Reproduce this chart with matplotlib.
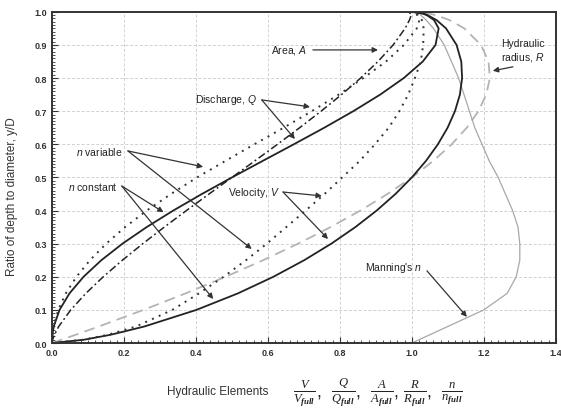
import matplotlib
matplotlib.use("Agg")
import matplotlib.pyplot as plt
from matplotlib.ticker import MultipleLocator

plt.rcParams['font.family'] = ['Liberation Sans', 'DejaVu Sans']
plt.rcParams['mathtext.fontset'] = 'custom'
plt.rcParams['mathtext.rm'] = 'Liberation Serif'
plt.rcParams['mathtext.it'] = 'Liberation Serif:italic'
plt.rcParams['mathtext.bf'] = 'Liberation Serif:bold:italic'
plt.rcParams['mathtext.sf'] = 'Liberation Sans:italic'

# ratio of depth to diameter, y/D
depth = [0, 0.01, 0.025, 0.05, 0.1, 0.15, 0.2, 0.25, 0.3, 0.35, 0.4, 0.45, 0.5,
         0.55, 0.6, 0.65, 0.7, 0.75, 0.8, 0.85, 0.9, 0.95, 0.975, 0.99, 0.995, 1.0]

area = [0, 0.0017, 0.0067, 0.0187, 0.0520, 0.0941, 0.1424, 0.1955, 0.2523, 0.3119, 0.3735,
        0.4364, 0.5, 0.5636, 0.6265, 0.6881, 0.7477, 0.8045, 0.8576, 0.9059, 0.9480,
        0.9813, 0.9933, 0.9983, 0.9994, 1.0]
radius = [0, 0.0266, 0.0659, 0.1302, 0.2541, 0.3715, 0.4824, 0.5865, 0.6838, 0.7740, 0.8569,
          0.9323, 1.0, 1.0596, 1.1106, 1.1526, 1.1849, 1.2068, 1.2168, 1.2131, 1.1922,
          1.1458, 1.1050, 1.0663, 1.0466, 1.0]
velocity = [0, 0.0890, 0.1631, 0.2569, 0.4012, 0.5168, 0.6151, 0.7007, 0.7761, 0.8430, 0.9022,
            0.9544, 1.0, 1.0393, 1.0724, 1.0993, 1.1198, 1.1335, 1.1397, 1.1374, 1.1243,
            1.0950, 1.0689, 1.0437, 1.0308, 1.0]
discharge = [0, 0.0002, 0.0011, 0.0048, 0.0209, 0.0486, 0.0876, 0.1370, 0.1958, 0.2630, 0.3370,
             0.4165, 0.5, 0.5857, 0.6718, 0.7564, 0.8372, 0.9119, 0.9775, 1.0304, 1.0658,
             1.0745, 1.0618, 1.0419, 1.0302, 1.0]
manning = [1.0, 1.02, 1.05, 1.10, 1.20, 1.265, 1.29, 1.30, 1.30, 1.295, 1.28, 1.26, 1.24,
           1.215, 1.195, 1.175, 1.16, 1.145, 1.13, 1.11, 1.09, 1.06, 1.04, 1.025, 1.022, 1.02]
velocity_var = [0, 0.0873, 0.1553, 0.2335, 0.3343, 0.4085, 0.4768, 0.5390, 0.5970, 0.6510,
                0.7048, 0.7574, 0.8065, 0.8554, 0.8974, 0.9356, 0.9653, 0.9899, 1.0086,
                1.0247, 1.0315, 1.0330, 1.0278, 1.0183, 1.0086, 0.9804]
discharge_var = [0, 0.0002, 0.0010, 0.0044, 0.0174, 0.0384, 0.0679, 0.1054, 0.1506, 0.2030,
                 0.2633, 0.3306, 0.4032, 0.4821, 0.5622, 0.6437, 0.7218, 0.7964, 0.8650,
                 0.9283, 0.9778, 1.0137, 1.0209, 1.0165, 1.0080, 0.9804]

fig = plt.figure(figsize=(5.61, 4.14), dpi=100)
ax = fig.add_axes([0.0927, 0.169, 0.898, 0.800])

ax.plot(radius, depth, color='#b4b4b4', lw=1.3, dashes=(6, 3.5))
ax.plot(manning, depth, color='#a8a8a8', lw=0.9)
ax.plot(area, depth, color='#222222', lw=1.1, dashes=(5, 2, 1.2, 2))
ax.plot(discharge, depth, color='#222222', lw=1.3)
ax.plot(velocity, depth, color='#222222', lw=1.3)
ax.plot(discharge_var, depth, color='#333333', lw=1.4, dashes=(1, 2.8))
ax.plot(velocity_var, depth, color='#333333', lw=1.4, dashes=(1, 2.8))

ax.set_xlim(0, 1.4)
ax.set_ylim(0, 1.0)
ax.xaxis.set_major_locator(MultipleLocator(0.2))
ax.xaxis.set_minor_locator(MultipleLocator(0.02))
ax.yaxis.set_major_locator(MultipleLocator(0.1))
ax.yaxis.set_minor_locator(MultipleLocator(0.01))
ax.xaxis.set_major_formatter(lambda v, p: f"{v:.1f}")
ax.yaxis.set_major_formatter(lambda v, p: f"{v:.1f}")
ax.tick_params(which='major', direction='in', length=4, width=0.8, labelsize=6.5, colors='#333333')
ax.tick_params(which='minor', direction='in', length=2, width=0.6, colors='#333333')
for lab in ax.get_xticklabels() + ax.get_yticklabels():
    lab.set_fontweight('bold')
for s in ax.spines.values():
    s.set_linewidth(1.4)
    s.set_color('#333333')
ax.grid(True, color='#d0d0d0', lw=0.7, dashes=(3, 2))
ax.set_axisbelow(True)

arrow = dict(arrowstyle='-|>', color='#333333', lw=0.9, mutation_scale=8, shrinkA=0, shrinkB=0)
txt = dict(fontsize=7.5, color='#222222', va='center')

# labels with arrows (text, arrow start, arrow tips)
ax.text(0.708, 0.885, "Area, $\\mathsf{A}$", ha='right', **txt)
ax.annotate('', xy=(0.906, 0.885), xytext=(0.725, 0.885), arrowprops=arrow)

ax.text(0.569, 0.737, "Discharge, $\\mathsf{Q}$", ha='right', **txt)
ax.annotate('', xy=(0.717, 0.713), xytext=(0.583, 0.734), arrowprops=arrow)
ax.annotate('', xy=(0.675, 0.616), xytext=(0.583, 0.734), arrowprops=arrow)

ax.text(0.197, 0.580, "$\\mathsf{n}$ variable", ha='right', **txt)
ax.annotate('', xy=(0.42, 0.532), xytext=(0.211, 0.580), arrowprops=arrow)
ax.annotate('', xy=(0.555, 0.284), xytext=(0.211, 0.580), arrowprops=arrow)

ax.text(0.183, 0.474, "$\\mathsf{n}$ constant", ha='right', **txt)
ax.annotate('', xy=(0.31, 0.395), xytext=(0.194, 0.474), arrowprops=arrow)
ax.annotate('', xy=(0.448, 0.133), xytext=(0.194, 0.474), arrowprops=arrow)

ax.text(0.633, 0.456, "Velocity, $\\mathsf{V}$", ha='right', **txt)
ax.annotate('', xy=(0.75, 0.444), xytext=(0.642, 0.456), arrowprops=arrow)
ax.annotate('', xy=(0.767, 0.314), xytext=(0.642, 0.456), arrowprops=arrow)

ax.text(1.308, 0.882, "Hydraulic\nradius, $\\mathsf{R}$", ha='center', linespacing=1.2, **txt)
ax.annotate('', xy=(1.225, 0.822), xytext=(1.281, 0.834), arrowprops=arrow)

ax.text(1.028, 0.230, "Manning's $\\mathsf{n}$", ha='right', **txt)
ax.annotate('', xy=(1.153, 0.079), xytext=(1.042, 0.218), arrowprops=arrow)

fig.text(0.021, 0.524, "Ratio of depth to diameter, y/D", rotation=90, ha='center', va='center',
         fontsize=8.5, color='#333333')
fig.text(0.298, 0.053, "Hydraulic Elements", ha='left', va='center', fontsize=8.5, color='#333333')
fig.text(0.523, 0.053,
         r"$\frac{V}{V_{\mathbf{full}}}$,  $\frac{Q}{Q_{\mathbf{full}}}$,  $\frac{A}{A_{\mathbf{full}}}$, "
         r"$\frac{R}{R_{\mathbf{full}}}$,  $\frac{n}{n_{\mathbf{full}}}$",
         ha='left', va='center', fontsize=13, color='#222222')

fig.savefig('out.png', dpi=100)
